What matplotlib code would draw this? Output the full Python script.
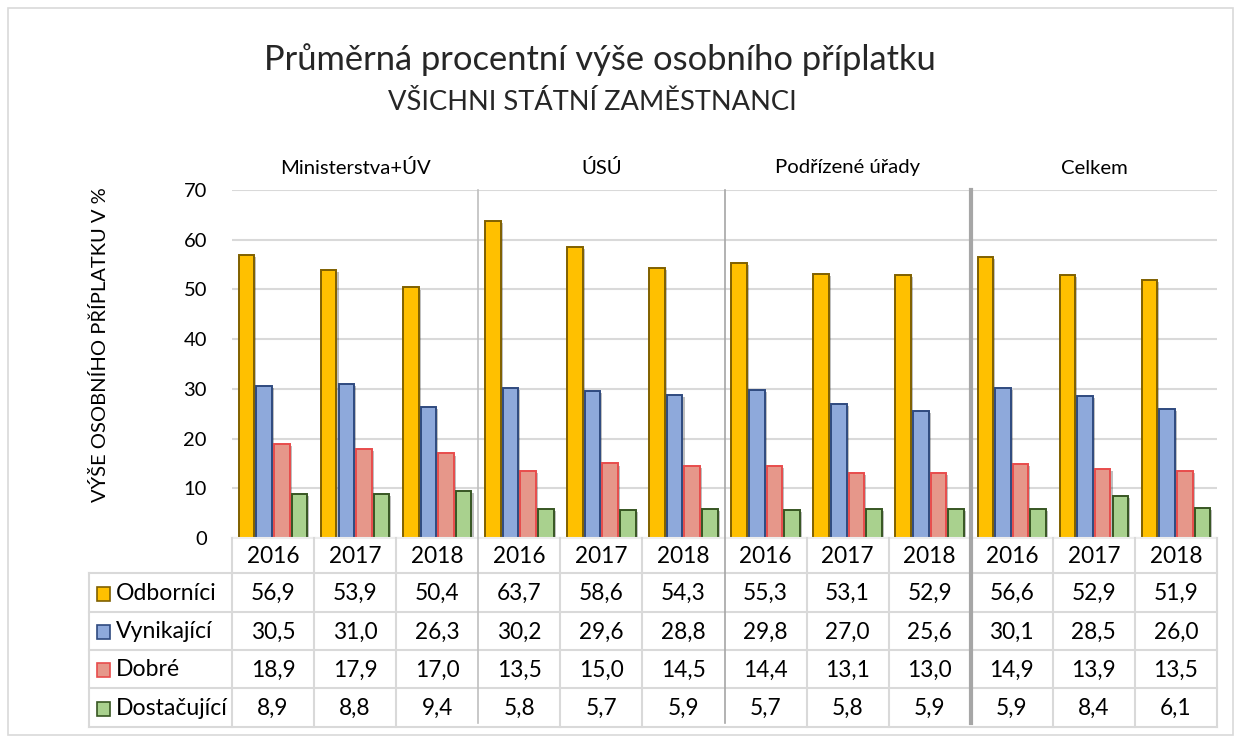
import matplotlib
matplotlib.use("Agg")
import matplotlib.pyplot as plt
from matplotlib import patheffects as pe
from matplotlib.patches import Rectangle
from matplotlib.lines import Line2D

# ---------------- data ----------------
groups = ["Ministerstva+ÚV", "ÚSÚ", "Podřízené úřady", "Celkem"]
years = ["2016", "2017", "2018"]
series = ["Odborníci", "Vynikající", "Dobré", "Dostačující"]
odbornici = [56.9, 53.9, 50.4, 63.7, 58.6, 54.3, 55.3, 53.1, 52.9, 56.6, 52.9, 51.9]
vynikajici = [30.5, 31.0, 26.3, 30.2, 29.6, 28.8, 29.8, 27.0, 25.6, 30.1, 28.5, 26.0]
dobre = [18.9, 17.9, 17.0, 13.5, 15.0, 14.5, 14.4, 13.1, 13.0, 14.9, 13.9, 13.5]
dostacujici = [8.9, 8.8, 9.4, 5.8, 5.7, 5.9, 5.7, 5.8, 5.9, 5.9, 8.4, 6.1]
title = "Průměrná procentní výše osobního příplatku"
subtitle = "VŠICHNI STÁTNÍ ZAMĚSTNANCI"
ylabel = "VÝŠE OSOBNÍHO PŘÍPLATKU V %"
yticks = [0, 10, 20, 30, 40, 50, 60, 70]

values = [odbornici, vynikajici, dobre, dostacujici]
faces = ["#FFC000", "#8EA9DB", "#E6978A", "#A9D18E"]
edges = ["#7F6000", "#2F4A7F", "#E84C4C", "#375623"]

FONT = "Lato"
plt.rcParams["font.family"] = [FONT, "DejaVu Sans"]

W, H = 1241, 742
fig = plt.figure(figsize=(W / 100, H / 100), dpi=100)

def fx(px):
    return px / W

def fy(py):
    return 1 - py / H

# outer frame
fig.add_artist(Rectangle((fx(8), fy(735)), fx(1233) - fx(8), fy(8) - fy(735),
                         transform=fig.transFigure, fill=False,
                         edgecolor="#D9D9D9", lw=1.2))

X0, X1, Y70, Y0 = 232, 1217, 190, 538
ax = fig.add_axes([fx(X0), fy(Y0), fx(X1) - fx(X0), (Y0 - Y70) / H])
ncol = len(odbornici)
ax.set_xlim(-0.5, ncol - 0.5)
ax.set_ylim(0, 70)
for s in ax.spines.values():
    s.set_visible(False)
ax.set_xticks([])
ax.set_yticks(yticks)
ax.tick_params(axis="y", length=0, pad=18, labelsize=14.5, labelcolor="#000000")
ax.yaxis.grid(True, color="#D9D9D9", lw=1.5)
ax.set_axisbelow(True)

w = 0.19
step = 0.215
offs = [-1.5, -0.5, 0.5, 1.5]
xs = list(range(ncol))
for k, vals in enumerate(values):
    bars = ax.bar([x + offs[k] * step for x in xs], vals, width=w,
                  color=faces[k], edgecolor=edges[k], linewidth=1.4, zorder=3)
    for b in bars:
        b.set_path_effects([pe.SimplePatchShadow(offset=(1.5, -1.5), alpha=0.25,
                                                 shadow_rgbFace="#000000"),
                            pe.Normal()])

# table geometry (pixels)
row_y = [538, 573, 612, 650, 688, 727]
LBL_X = 89
col_edges = [X0 + (X1 - X0) * i / ncol for i in range(ncol + 1)]

def ln(x0, y0, x1, y1, color="#D9D9D9", lw=1.5):
    fig.add_artist(Line2D([fx(x0), fx(x1)], [fy(y0), fy(y1)],
                          transform=fig.transFigure, color=color, lw=lw))

# horizontal table lines
ln(X0, row_y[0], X1, row_y[0], color="#EDEDED")
for y in row_y[1:]:
    ln(LBL_X, y, X1, y)
# vertical table lines
ln(LBL_X, row_y[1], LBL_X, row_y[-1])
for i, xe in enumerate(col_edges):
    if i in (3, 6, 9):
        continue
    ln(xe, row_y[0], xe, row_y[-1])

# group separators
ln(col_edges[3], Y70, col_edges[3], row_y[-1] - 4, color="#BFBFBF", lw=1.2)
ln(col_edges[6], Y70, col_edges[6], row_y[-1] - 4, color="#A6A6A6", lw=1.2)
ln(col_edges[9], Y70, col_edges[9], row_y[-1] - 4, color="#A6A6A6", lw=3)

TS = 16.3
# year header row
for i in range(ncol):
    cx = (col_edges[i] + col_edges[i + 1]) / 2
    fig.text(fx(cx), fy((row_y[0] + row_y[1]) / 2 + 1), years[i % 3],
             ha="center", va="center", fontsize=TS)

# value rows
for r, (name, vals) in enumerate(zip(series, values)):
    cy = (row_y[r + 1] + row_y[r + 2]) / 2 + 1
    fig.add_artist(Rectangle((fx(97), fy(cy + 7)), 13 / W, 14 / H,
                             transform=fig.transFigure, facecolor=faces[r],
                             edgecolor=edges[r], lw=1.2))
    fig.text(fx(116), fy(cy), name, ha="left", va="center", fontsize=16.6)
    for i, v in enumerate(vals):
        cx = (col_edges[i] + col_edges[i + 1]) / 2
        fig.text(fx(cx), fy(cy), f"{v:.1f}".replace(".", ","),
                 ha="center", va="center", fontsize=TS)

# group labels
for g, name in enumerate(groups):
    cx = (col_edges[3 * g] + col_edges[3 * g + 3]) / 2
    fig.text(fx(cx), fy(168), name, ha="center", va="center", fontsize=14.6)

# titles
fig.text(fx(600), fy(60), title, ha="center", va="center", fontsize=24.8,
         color="#262626")
fig.text(fx(592), fy(103), subtitle, ha="center", va="center", fontsize=19.6,
         color="#262626")
fig.text(fx(100), fy(345), ylabel, ha="center", va="center", rotation=90,
         fontsize=14.5)

fig.savefig("out.png", dpi=100, facecolor="white")
